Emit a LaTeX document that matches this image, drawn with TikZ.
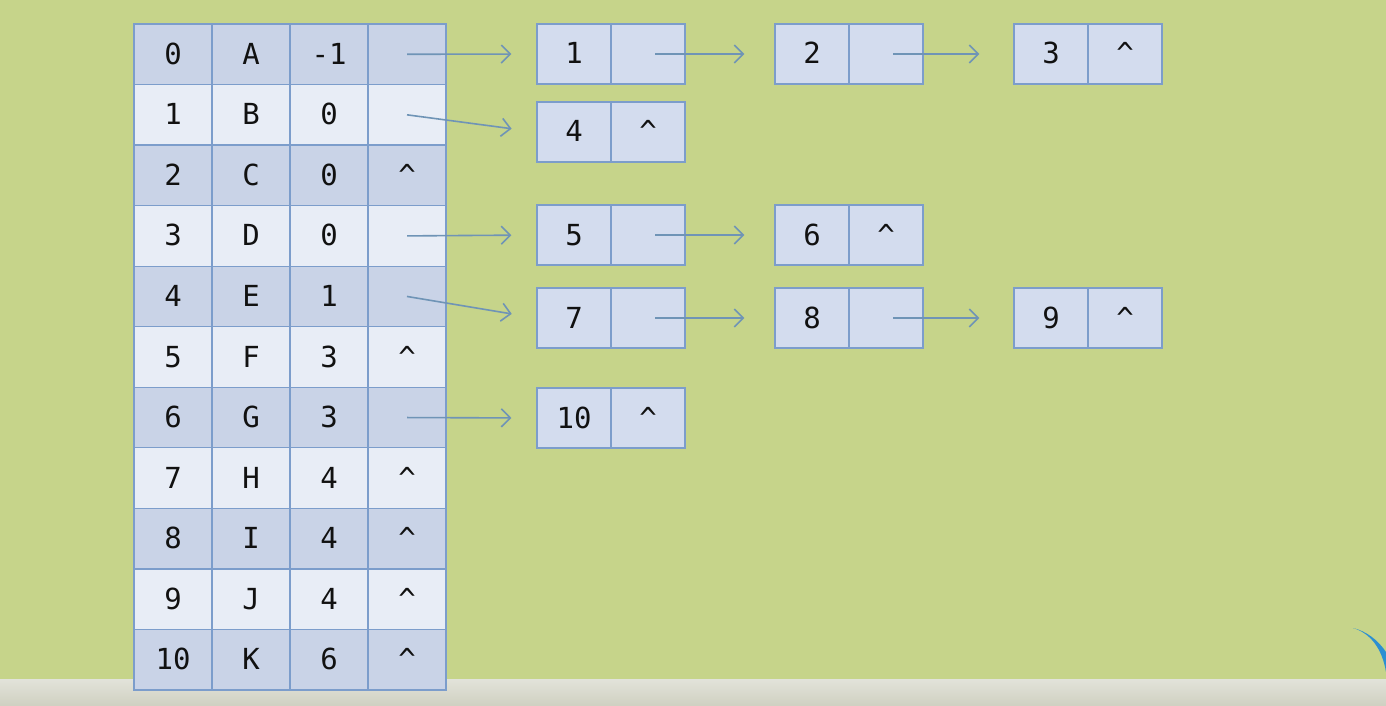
\documentclass[tikz,border=0pt]{standalone}
\usepackage{fontspec}
\newfontfamily\monof{DejaVu Sans Mono}
\usetikzlibrary{arrows.meta}
\definecolor{bg}{HTML}{C6D48A}
\definecolor{strip}{HTML}{CFD0C1}
\definecolor{darkcell}{HTML}{C9D3E7}
\definecolor{lightcell}{HTML}{E8EDF6}
\definecolor{boxfill}{HTML}{D3DCEE}
\definecolor{bord}{HTML}{7C9DCB}
\definecolor{arrc}{HTML}{6F94B6}
\definecolor{txt}{HTML}{111111}
\definecolor{swoosh}{HTML}{2B8FD2}
\tikzset{
  cell/.style={draw=bord, line width=1.2pt, minimum width=78pt, minimum height=60.545pt,
    inner sep=0pt, text=txt, font=\monof\fontsize{29}{29}\selectfont,
    text height=20pt, text depth=0pt},
  half/.style={draw=bord, line width=1.2pt, fill=boxfill, minimum width=74pt, minimum height=60pt,
    inner sep=0pt, text=txt, font=\monof\fontsize{29}{29}\selectfont,
    text height=20pt, text depth=0pt},
  arr/.style={draw=arrc, line width=1.6pt, -{Straight Barb[length=9pt,width=18pt]}}
}
\newcommand\tabrow[5]{%
  \pgfmathsetmacro\yy{24+(#1+0.5)*60.545}%
  \ifodd#1 \def\cf{lightcell}\else\def\cf{darkcell}\fi
  \node[cell,fill=\cf] (t-#1-0) at (173,\yy) {#2};
  \node[cell,fill=\cf] (t-#1-1) at (251,\yy) {#3};
  \node[cell,fill=\cf] (t-#1-2) at (329,\yy) {#4};
  \node[cell,fill=\cf] (t-#1-3) at (407,\yy) {#5};
}
\newcommand\lnode[5]{% name, x-left-center, y, value, pointer
  \node[half] (#1v) at (#2,#3) {#4};
  \node[half] (#1p) at (#2+74,#3) {#5};
}
\begin{document}
\begin{tikzpicture}[x=1pt,y=-1pt]
\useasboundingbox (0,0) rectangle (1386,706);
\fill[bg] (0,0) rectangle (1386,706);
\shade[top color=strip!60!white, bottom color=strip] (0,679) rectangle (1386,706);
\fill[swoosh] (1353,628) .. controls (1370,633) and (1382,648) .. (1386,672)
  -- (1386,652) .. controls (1378,640) and (1366,631) .. cycle;

\tabrow{0}{0}{A}{-1}{}
\tabrow{1}{1}{B}{0}{}
\tabrow{2}{2}{C}{0}{\textasciicircum}
\tabrow{3}{3}{D}{0}{}
\tabrow{4}{4}{E}{1}{}
\tabrow{5}{5}{F}{3}{\textasciicircum}
\tabrow{6}{6}{G}{3}{}
\tabrow{7}{7}{H}{4}{\textasciicircum}
\tabrow{8}{8}{I}{4}{\textasciicircum}
\tabrow{9}{9}{J}{4}{\textasciicircum}
\tabrow{10}{10}{K}{6}{\textasciicircum}

\lnode{n1}{574}{54}{1}{}
\lnode{n2}{812}{54}{2}{}
\lnode{n3}{1051}{54}{3}{\textasciicircum}
\lnode{n4}{574}{132}{4}{\textasciicircum}
\lnode{n5}{574}{235}{5}{}
\lnode{n6}{812}{235}{6}{\textasciicircum}
\lnode{n7}{574}{318}{7}{}
\lnode{n8}{812}{318}{8}{}
\lnode{n9}{1051}{318}{9}{\textasciicircum}
\lnode{n10}{574}{418}{10}{\textasciicircum}

\draw[arr, shorten >=25pt] (t-0-3.center) -- (n1v.west);
\draw[arr, shorten >=25pt] (t-1-3.center) -- (n4v.west);
\draw[arr, shorten >=25pt] (t-3-3.center) -- (n5v.west);
\draw[arr, shorten >=25pt] (t-4-3.center) -- (n7v.west);
\draw[arr, shorten >=25pt] (t-6-3.center) -- (n10v.west);

\draw[arr, shorten >=30pt] ([xshift=7pt]n1p.center) -- (n2v.west);
\draw[arr, shorten >=34pt] ([xshift=7pt]n2p.center) -- (n3v.west);
\draw[arr, shorten >=30pt] ([xshift=7pt]n5p.center) -- (n6v.west);
\draw[arr, shorten >=30pt] ([xshift=7pt]n7p.center) -- (n8v.west);
\draw[arr, shorten >=34pt] ([xshift=7pt]n8p.center) -- (n9v.west);
\end{tikzpicture}
\end{document}
